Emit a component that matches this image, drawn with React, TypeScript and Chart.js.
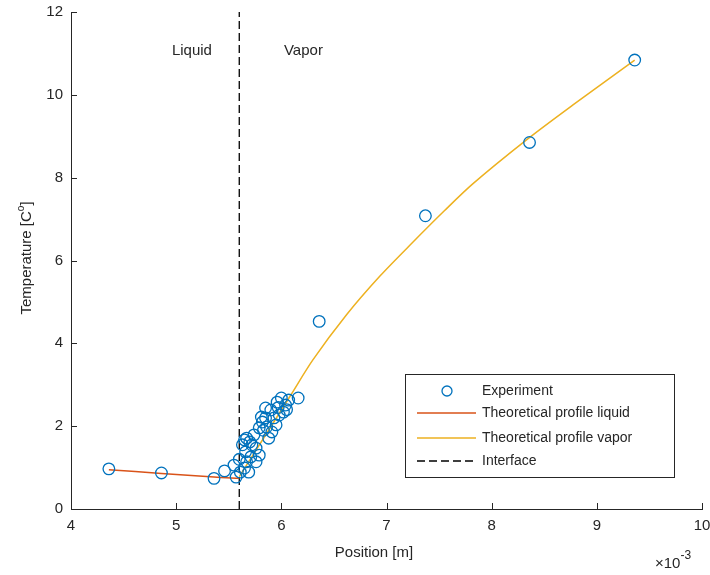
import React, { useEffect, useRef } from "react";
import { Chart, registerables } from "chart.js";

Chart.register(...registerables);

// Experimental data (x in units of 1e-3 m)
const expX = [
  4.36, 4.86, 5.36, 5.46,
  5.55, 5.57, 5.61, 5.65, 5.67, 5.71, 5.66, 5.63, 5.67, 5.65, 5.72, 5.76, 5.79, 5.74,
  5.79, 5.82, 5.85, 5.81, 5.86, 5.91, 5.88, 5.95, 5.9, 5.96, 6.0, 6.04, 6.02, 6.07,
  5.98, 5.85, 5.93, 5.76, 5.69, 5.6, 5.7, 5.83, 5.97, 6.05,
  6.16, 6.36, 7.37, 8.36, 9.36,
];
const expY = [
  0.97, 0.87, 0.74, 0.92,
  1.06, 0.77, 0.89, 0.99, 1.14, 1.26, 1.38, 1.55, 1.71, 1.67, 1.55, 1.47, 1.3, 1.79,
  1.96, 2.1, 2.2, 2.22, 1.98, 1.86, 1.71, 2.03, 2.39, 2.58, 2.68, 2.51, 2.34, 2.63,
  2.27, 2.44, 2.2, 1.14, 0.89, 1.2, 1.62, 1.9, 2.45, 2.4,
  2.68, 4.53, 7.08, 8.85, 10.84,
];

// Theoretical profile, liquid side
const liqX = [4.36, 4.86, 5.36, 5.6];
const liqY = [0.95, 0.86, 0.77, 0.74];

// Theoretical profile, vapor side
const vapX = [5.6, 6.08, 6.3, 6.62, 6.94, 7.25, 7.55, 7.82, 8.34, 8.77, 9.36];
const vapY = [0.78, 2.71, 3.6, 4.69, 5.63, 6.44, 7.2, 7.85, 8.93, 9.75, 10.84];

// Interface
const interfaceX = [5.6, 5.6];
const interfaceY = [0, 12];

const xTicks = [4, 5, 6, 7, 8, 9, 10];
const yTicks = [0, 2, 4, 6, 8, 10, 12];

const seriesLabels = ["Experiment", "Theoretical profile liquid", "Theoretical profile vapor", "Interface"];
const regionLabels = [
  { text: "Liquid", x: 5.15, y: 11.07 },
  { text: "Vapor", x: 6.21, y: 11.07 },
];

const FONT = "'Liberation Sans', Arial, Helvetica, sans-serif";
const TXT = "#262626";

const toPts = (xs: number[], ys: number[]) => xs.map((x, i) => ({ x, y: ys[i] }));

const decorPlugin = {
  id: "decor",
  afterDraw(chart: any) {
    const ctx = chart.ctx as CanvasRenderingContext2D;
    const xs = chart.scales.x;
    const ys = chart.scales.y;
    const area = chart.chartArea;
    ctx.save();
    // inward ticks
    ctx.strokeStyle = TXT;
    ctx.lineWidth = 1;
    ctx.beginPath();
    xTicks.forEach((t) => {
      const px = Math.round(xs.getPixelForValue(t)) + 0.5;
      ctx.moveTo(px, area.bottom);
      ctx.lineTo(px, area.bottom - 6);
    });
    yTicks.forEach((t) => {
      const py = Math.round(ys.getPixelForValue(t)) + 0.5;
      ctx.moveTo(area.left, py);
      ctx.lineTo(area.left + 6, py);
    });
    ctx.stroke();

    // region labels
    ctx.fillStyle = TXT;
    ctx.font = `15px ${FONT}`;
    ctx.textAlign = "center";
    ctx.textBaseline = "middle";
    regionLabels.forEach((r) => {
      ctx.fillText(r.text, xs.getPixelForValue(r.x), ys.getPixelForValue(r.y));
    });

    // x title
    ctx.fillText("Position [m]", 374, 553);
    // exponent
    ctx.textAlign = "left";
    ctx.font = `15px ${FONT}`;
    ctx.fillText("\u00d710", 655, 564);
    const w = ctx.measureText("\u00d710").width;
    ctx.font = `12px ${FONT}`;
    ctx.fillText("-3", 655 + w, 556);

    // y title with superscript
    ctx.save();
    ctx.translate(27, 258);
    ctx.rotate(-Math.PI / 2);
    const a = "Temperature [C";
    const b = "o";
    const c = "]";
    ctx.font = `15px ${FONT}`;
    const wa = ctx.measureText(a).width;
    const wc = ctx.measureText(c).width;
    ctx.font = `10px ${FONT}`;
    const wb = ctx.measureText(b).width;
    const total = wa + wb + wc;
    const x0 = -total / 2;
    ctx.textAlign = "left";
    ctx.font = `15px ${FONT}`;
    ctx.fillText(a, x0, 0);
    ctx.font = `10px ${FONT}`;
    ctx.fillText(b, x0 + wa, -6);
    ctx.font = `15px ${FONT}`;
    ctx.fillText(c, x0 + wa + wb, 0);
    ctx.restore();

    // legend box
    const lx = 405, ly = 374, lw = 269, lh = 103;
    ctx.fillStyle = "#ffffff";
    ctx.fillRect(lx, ly, lw, lh);
    ctx.strokeStyle = "#262626";
    ctx.lineWidth = 1;
    ctx.strokeRect(lx + 0.5, ly + 0.5, lw, lh);
    const rows = [391, 413, 438, 461];
    const ds = chart.data.datasets;
    ds.forEach((d: any, i: number) => {
      const yy = rows[i];
      if (i === 0) {
        ctx.beginPath();
        ctx.strokeStyle = d.borderColor;
        ctx.lineWidth = 1.3;
        ctx.arc(447, yy, 5, 0, Math.PI * 2);
        ctx.stroke();
      } else {
        ctx.beginPath();
        ctx.strokeStyle = d.borderColor;
        ctx.lineWidth = d.borderWidth;
        ctx.setLineDash(d.borderDash || []);
        ctx.moveTo(417, yy);
        ctx.lineTo(476, yy);
        ctx.stroke();
        ctx.setLineDash([]);
      }
      ctx.fillStyle = TXT;
      ctx.font = `14px ${FONT}`;
      ctx.textAlign = "left";
      ctx.textBaseline = "middle";
      ctx.fillText(d.label, 482, yy);
    });
    ctx.restore();
  },
};

export default function App() {
  const ref = useRef<HTMLCanvasElement | null>(null);
  useEffect(() => {
    document.body.style.margin = "0";
    const canvas = ref.current!;
    const chart = new Chart(canvas, {
      type: "scatter",
      data: {
        datasets: [
          {
            label: seriesLabels[0],
            data: toPts(expX, expY),
            showLine: false,
            pointRadius: 5.8,
            pointBorderWidth: 1.3,
            borderColor: "#0072BD",
            pointBorderColor: "#0072BD",
            backgroundColor: "rgba(0,0,0,0)",
            pointBackgroundColor: "rgba(0,0,0,0)",
            order: 1,
          },
          {
            label: seriesLabels[1],
            data: toPts(liqX, liqY),
            showLine: true,
            pointRadius: 0,
            borderColor: "#D95319",
            borderWidth: 1.5,
            tension: 0.3,
            order: 2,
          },
          {
            label: seriesLabels[2],
            data: toPts(vapX, vapY),
            showLine: true,
            pointRadius: 0,
            borderColor: "#EDB120",
            borderWidth: 1.5,
            tension: 0.3,
            order: 2,
          },
          {
            label: seriesLabels[3],
            data: toPts(interfaceX, interfaceY),
            showLine: true,
            pointRadius: 0,
            borderColor: "#000000",
            borderWidth: 1.3,
            borderDash: [8, 4],
            order: 3,
          },
        ],
      } as any,
      options: {
        animation: false,
        responsive: false,
        devicePixelRatio: 1,
        layout: { padding: { top: 12, right: 8, left: 0, bottom: 0 }, autoPadding: false } as any,
        plugins: { legend: { display: false }, tooltip: { enabled: false } },
        scales: {
          x: {
            type: "linear",
            min: 4,
            max: 10,
            afterBuildTicks: (s: any) => {
              s.ticks = xTicks.map((v) => ({ value: v }));
            },
            afterFit: (s: any) => {
              s.height = 66;
              s.paddingLeft = 0;
              s.paddingRight = 0;
            },
            grid: { display: false, drawTicks: false },
            border: { display: true, color: TXT, width: 1 },
            ticks: { color: TXT, font: { family: FONT, size: 15 }, padding: 8, maxRotation: 0 },
          },
          y: {
            type: "linear",
            min: 0,
            max: 12,
            afterBuildTicks: (s: any) => {
              s.ticks = yTicks.map((v) => ({ value: v }));
            },
            afterFit: (s: any) => {
              s.width = 71;
              s.paddingTop = 0;
              s.paddingBottom = 0;
            },
            grid: { display: false, drawTicks: false },
            border: { display: true, color: TXT, width: 1 },
            ticks: { color: TXT, font: { family: FONT, size: 15 }, padding: 8 },
          },
        },
      } as any,
      plugins: [decorPlugin],
    });
    return () => chart.destroy();
  }, []);
  return (
    <div style={{ width: 710, height: 575, background: "#fff" }}>
      <canvas ref={ref} width={710} height={575} style={{ display: "block" }} />
    </div>
  );
}
